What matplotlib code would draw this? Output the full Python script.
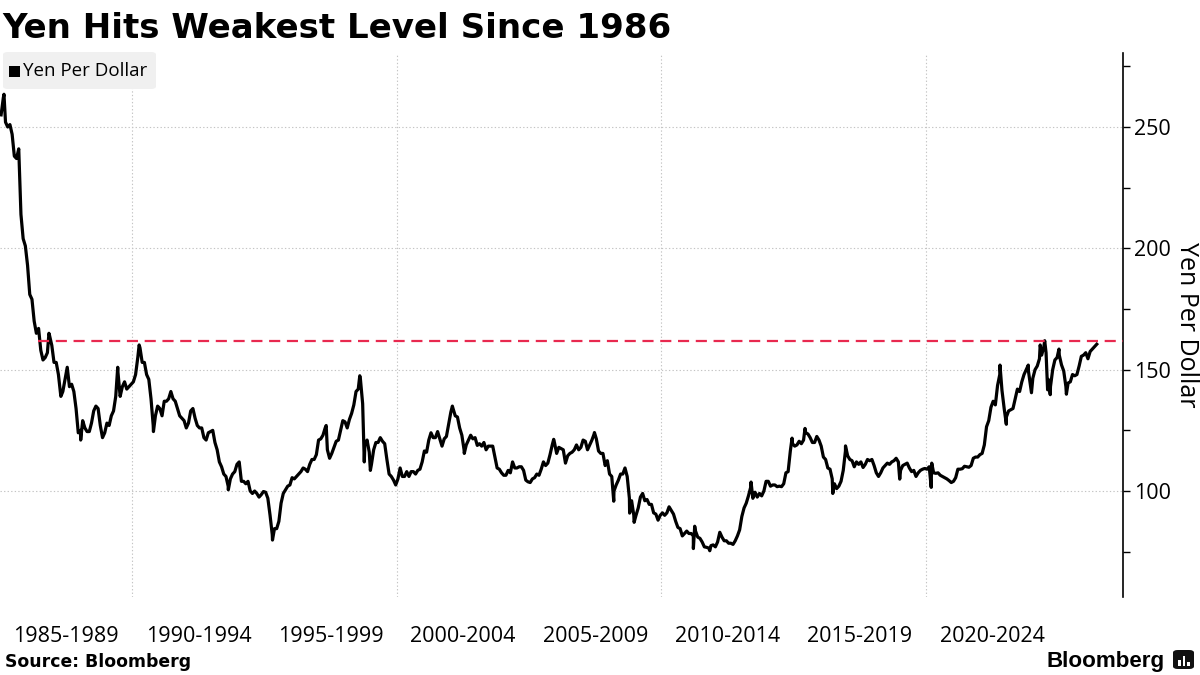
import matplotlib
matplotlib.use("Agg")
import matplotlib.pyplot as plt
from matplotlib.patches import FancyBboxPatch, Rectangle
import numpy as np

# ---------------- text ----------------
title = "Yen Hits Weakest Level Since 1986"
series_name = "Yen Per Dollar"
source_text = "Source: Bloomberg"
brand = "Bloomberg"

period_labels = ["1985-1989", "1990-1994", "1995-1999", "2000-2004",
                 "2005-2009", "2010-2014", "2015-2019", "2020-2024"]
period_centers = [1987.5, 1992.5, 1997.5, 2002.5, 2007.5, 2012.5, 2017.5, 2022.5]
grid_years = [1990, 2000, 2010, 2020]
y_major = [100, 150, 200, 250]
y_minor = [75, 125, 175, 225, 275]

threshold = 161.95          # level of the mid-2024 peak
threshold_start = 1986.45   # last time the yen was this weak

# ---------------- data: monthly yen per dollar ----------------
yen_1985_1989 = [
    255, 262, 252, 250, 251, 247, 238, 237, 241, 214, 204, 201,
    193, 181, 179, 170, 165, 167, 158, 154, 155, 157, 164, 160,
    153, 153, 148, 140, 141, 146, 151, 143, 144, 141, 134, 124,
    125, 129, 126, 124.5, 124.5, 128, 133, 135, 134, 127, 122, 124,
    128, 127, 131, 133, 139, 149, 139, 143, 145, 142, 143, 144]
yen_1990_1994 = [
    145, 148, 155, 159, 153, 153, 148, 146, 138, 127, 131, 135,
    134, 131, 137, 137, 138, 141, 138, 137, 134, 131, 130, 129,
    126, 128, 133, 134, 130, 127, 126, 126, 122, 121, 124, 124.5,
    125, 120, 117, 112, 110, 107, 106, 102, 105, 107, 108, 111,
    112, 104, 104, 103, 104, 100, 99, 100, 99, 97.5, 98.5, 99.8]
yen_1995_1999 = [
    99.5, 97, 90, 82, 84.5, 84.5, 87.5, 95, 99, 100.5, 102, 102.5,
    105.5, 105, 106, 107, 108, 109.5, 109, 108, 111, 113, 113, 115,
    121, 121.5, 123, 126, 117, 113.5, 115.5, 118, 120.5, 121, 125, 129,
    128.5, 126, 129.5, 132, 135.5, 141, 142, 146, 136, 119, 121, 116,
    111, 117, 120, 120, 122, 120.5, 119.5, 113, 107, 106, 104.5, 102.5]
yen_2000_2004 = [
    105, 109.5, 106, 106, 108, 106, 108, 108, 107, 108.5, 109, 112,
    116.5, 116, 121, 124, 122, 122, 124.5, 121.5, 118.5, 121.5, 122.5, 127.5,
    132.5, 134, 131, 130.5, 126, 123, 117, 119, 121, 123, 121.5, 122,
    118.8, 119.5, 118.5, 120, 117, 118.5, 118.5, 118.5, 114, 109.5, 109, 107.5,
    106.5, 106.5, 108.5, 107.5, 112, 109.5, 109.5, 110, 110, 108.5, 104.5, 103.8]
yen_2005_2009 = [
    103.5, 105, 105.5, 107, 106.5, 109, 112, 110.5, 111.5, 115, 119, 120,
    115.5, 118, 117.5, 117, 111.5, 114.5, 115.5, 116, 117, 119, 117, 118,
    121, 120.5, 117, 119, 121, 123.5, 121.5, 116.5, 115.5, 115.5, 110.5, 112.5,
    107, 106, 100, 102.5, 104.5, 107, 107, 109.5, 106, 97, 96, 90,
    90, 93, 97.5, 99, 96, 96.5, 94.5, 94.5, 91, 90.5, 88, 90]
yen_2010_2014 = [
    91, 90, 91, 93.5, 92, 90.5, 87.5, 85, 84.5, 81.5, 82.5, 83.5,
    82.5, 82.5, 81.5, 83.5, 81, 80.5, 79, 77, 76.8, 76.5, 77.5, 77.8,
    77, 79, 83, 81, 79.5, 79.5, 78.5, 78.5, 78, 79.5, 81.5, 84,
    89.5, 93, 95, 98, 101.5, 97, 99.5, 97.5, 99, 98, 100, 104,
    104, 102, 102.5, 102.5, 101.8, 102, 101.8, 103, 107.5, 108, 116.5, 119.5]
yen_2015_2019 = [
    118.5, 119, 120.5, 119.5, 121, 124, 123.5, 122, 120, 120, 122.5, 121,
    118.5, 114, 113, 109.5, 109, 105, 103, 101, 102, 104, 108.5, 116.5,
    114.5, 113, 112.5, 110, 112, 111, 112, 109.7, 111, 113, 112.5, 113,
    110.5, 107.5, 106, 107.5, 109.5, 110.5, 111.5, 111, 112, 112.5, 113.5, 112,
    108.5, 110.5, 111, 111.5, 109.5, 108, 108.5, 106, 107.5, 108.5, 109, 109.3]
yen_2020_2024 = [
    109, 110, 107.5, 107.5, 107.3, 107.5, 106.5, 106, 105.5, 105, 104.3, 103.5,
    104, 105.5, 109, 109, 109.2, 110.2, 110, 109.8, 110.5, 113.5, 114, 114,
    115, 115.5, 119, 126.5, 129, 134.5, 137, 135.5, 143.5, 148, 141.5, 134,
    130.5, 133, 133.5, 134, 138, 142, 141, 145, 148, 150, 149.5, 143,
    146.5, 150, 151.5, 154.5, 156, 159.5, 157, 146, 143, 150, 154, 155]
yen_2025_2026 = [
    156, 152, 149.5, 143, 144.5, 145, 148, 147.5, 148, 151.5, 155.5, 156,
    157, 154.5, 157.5, 158.5, 159.5, 160.5]

# intra-month extremes (decimal year, value)
spike_dates = [1985.15, 1986.85, 1987.30, 1988.05, 1989.45, 1990.26, 1990.80,
               1993.63, 1995.30, 1997.33, 1998.60, 1998.77, 1999.00, 2002.10,
               2002.55, 2005.93, 2007.47, 2008.20, 2008.80, 2008.97, 2011.21,
               2011.26, 2011.83, 2013.39, 2014.94, 2015.43, 2016.48, 2016.96,
               2019.01, 2020.20, 2020.22, 2022.80, 2023.04, 2023.87, 2023.99,
               2024.32, 2024.49, 2024.60, 2024.70, 2025.03, 2025.31]
spike_values = [263.5, 165, 139, 121, 151, 160.2, 124.5,
                100.5, 79.8, 127, 147.5, 112, 108.5, 135,
                115.5, 121.3, 124.1, 95.8, 90.9, 87.1, 76.3,
                85.5, 75.4, 103.7, 121.8, 125.8, 99.0, 118.6,
                104.9, 101.5, 111.5, 151.9, 127.5, 151.9, 140.5,
                160.2, 161.95, 141.7, 139.7, 158.5, 139.9]

blocks = [(1985, yen_1985_1989), (1990, yen_1990_1994), (1995, yen_1995_1999),
          (2000, yen_2000_2004), (2005, yen_2005_2009), (2010, yen_2010_2014),
          (2015, yen_2015_2019), (2020, yen_2020_2024), (2025, yen_2025_2026)]
dates, values = [], []
for start, vals in blocks:
    for i, v in enumerate(vals):
        dates.append(start + (i + 0.5) / 12.0)
        values.append(v)
dates = np.array(dates + spike_dates)
values = np.array(values + spike_values)
order = np.argsort(dates, kind="stable")
dates, values = dates[order], values[order]

# ---------------- figure ----------------
W, H = 1200, 675
fig = plt.figure(figsize=(12, 6.75), dpi=100)
fig.patch.set_facecolor("white")

def fx(x):
    return x / W

def fy(y):
    return 1 - y / H

ax_left, ax_right, ax_top, ax_bottom = 0, 1123, 52.5, 596.6
ax = fig.add_axes([fx(ax_left), fy(ax_bottom), (ax_right - ax_left) / W, (ax_bottom - ax_top) / H])
xmin, xmax = 1985.0, 2027.45
ax.set_xlim(xmin, xmax)
ax.set_ylim(56.5, 280.7)

for s in ["left", "top", "bottom"]:
    ax.spines[s].set_visible(False)
ax.spines["right"].set_color("black")
ax.spines["right"].set_linewidth(1.2)

tick_font = "Open Sans"
ax.yaxis.tick_right()
ax.set_yticks(y_major)
ax.set_yticks(y_minor, minor=True)
ax.set_yticklabels([str(v) for v in y_major], fontsize=15.5, family=tick_font)
ax.tick_params(axis="y", which="major", length=5, width=1, pad=3, colors="black")
ax.tick_params(axis="y", which="minor", length=5, width=1)

ax.set_xticks(grid_years)
ax.set_xticklabels([""] * len(grid_years))
ax.set_xticks(period_centers, minor=True)
ax.set_xticklabels(period_labels, minor=True, fontsize=15.5, family=tick_font)
ax.tick_params(axis="x", which="both", length=0)
ax.tick_params(axis="x", which="minor", pad=21)

ax.grid(True, which="major", color="#c4c4c4", linestyle=(0, (1.2, 2)), linewidth=0.8)
ax.set_axisbelow(True)

ax.plot(dates, values, color="black", linewidth=2.3, solid_joinstyle="round", zorder=3)
ax.plot([threshold_start, xmax], [threshold, threshold], color="#e8294f",
        linewidth=1.6, linestyle=(0, (5, 3)), zorder=4)

# ---------------- texts & decorations ----------------
renderer = fig.canvas.get_renderer()

def fit_text(x, y, s, target_w, size0, **kw):
    t = fig.text(fx(x), fy(y), s, fontsize=size0, **kw)
    w = t.get_window_extent(renderer).width
    t.set_fontsize(size0 * target_w / w)
    return t

# right-hand axis title
fig.text(fx(1187), fy(325), series_name, rotation=270, fontsize=18, family=tick_font,
         ha="center", va="center")

fit_text(2, 38, title, 668, 26, family="DejaVu Sans", weight="bold", va="baseline", ha="left")

# legend chip
fig.patches.append(FancyBboxPatch((fx(3), fy(89)), fx(153), (89 - 52) / H,
                                  boxstyle="round,pad=0,rounding_size=0.004",
                                  transform=fig.transFigure, facecolor="#f0f0f0",
                                  edgecolor="none", zorder=5))
fig.patches.append(Rectangle((fx(9), fy(77)), fx(11), 11 / H, transform=fig.transFigure,
                             facecolor="black", edgecolor="none", zorder=6))
fit_text(23, 71, series_name, 124, 13.5, family=tick_font, va="center", ha="left", zorder=7)

fit_text(5, 662, source_text, 186, 12, family="DejaVu Sans", weight="bold", va="center", ha="left")
fit_text(1047, 661, brand, 119, 15, family="Liberation Sans", weight="bold", va="center", ha="left")

# small brand icon
fig.patches.append(FancyBboxPatch((fx(1173), fy(669)), fx(21), 19 / H,
                                  boxstyle="round,pad=0,rounding_size=0.004",
                                  transform=fig.transFigure, facecolor="#111111",
                                  edgecolor="none"))
for bx, btop in [(1178, 660), (1182.5, 656), (1187, 662)]:
    fig.patches.append(Rectangle((fx(bx), fy(666)), fx(2.5), (666 - btop) / H,
                                 transform=fig.transFigure, facecolor="white", edgecolor="none"))

fig.savefig("out.png", dpi=100)
